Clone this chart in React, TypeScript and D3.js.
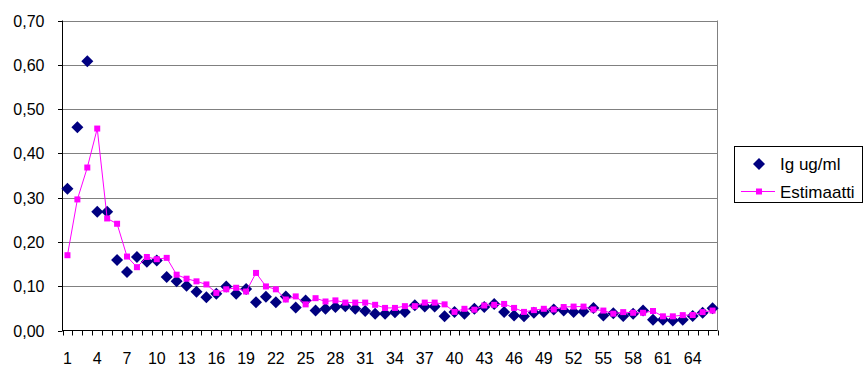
import React from "react";
import * as d3 from "d3";

// Sample index 1..66
const categories: number[] = d3.range(1, 67);

// Measured concentration (Ig ug/ml)
const measured: number[] = [
  0.32, 0.459, 0.608, 0.268, 0.268, 0.159, 0.132, 0.166, 0.155, 0.158,
  0.121, 0.111, 0.101, 0.0875, 0.075, 0.083, 0.0995, 0.083, 0.0935, 0.064,
  0.076, 0.064, 0.077, 0.052, 0.068, 0.045, 0.049, 0.053, 0.055, 0.049,
  0.044, 0.038, 0.038, 0.041, 0.042, 0.057, 0.054, 0.054, 0.032, 0.042,
  0.038, 0.049, 0.053, 0.06, 0.0415, 0.034, 0.032, 0.04, 0.0415, 0.0475,
  0.045, 0.042, 0.043, 0.051, 0.034, 0.039, 0.033, 0.038, 0.045, 0.024,
  0.024, 0.0226, 0.024, 0.033, 0.04, 0.0505,
];

// Model estimate
const estimate: number[] = [
  0.17, 0.296, 0.368, 0.456, 0.253, 0.241, 0.167, 0.143, 0.166, 0.161,
  0.164, 0.126, 0.117, 0.111, 0.104, 0.085, 0.093, 0.0965, 0.088, 0.13,
  0.0995, 0.093, 0.07, 0.077, 0.059, 0.073, 0.0655, 0.068, 0.063, 0.063,
  0.063, 0.058, 0.051, 0.051, 0.055, 0.055, 0.063, 0.063, 0.059, 0.042,
  0.049, 0.047, 0.0565, 0.058, 0.06, 0.051, 0.042, 0.046, 0.049, 0.0475,
  0.053, 0.054, 0.054, 0.0475, 0.045, 0.038, 0.0415, 0.04, 0.04, 0.044,
  0.032, 0.032, 0.0347, 0.035, 0.0415, 0.045,
];

const yTicks: number[] = [0, 0.1, 0.2, 0.3, 0.4, 0.5, 0.6, 0.7];
const xTickLabels: number[] = d3.range(1, 67, 3);
const seriesNames: string[] = ["Ig ug/ml", "Estimaatti"];

const W = 868;
const H = 367;
const left = 62.5;
const right = 717.5;
const top = 20.5;
const bottom = 330.5;

const FONT = "'Liberation Sans', Arial, sans-serif";

export default function App() {
  const x = d3
    .scaleBand<number>()
    .domain(categories)
    .range([left, right])
    .padding(0);
  const y = d3.scaleLinear().domain([0, 0.7]).range([bottom, top]);
  const cx = (c: number) => (x(c) as number) + x.bandwidth() / 2;

  const fmt = (v: number) => v.toFixed(2).replace(".", ",");

  const line = d3
    .line<number>()
    .x((_, i) => cx(categories[i]))
    .y((d) => y(d));

  const diamond = (px: number, py: number, r: number) =>
    `M${px},${py - r}L${px + r},${py}L${px},${py + r}L${px - r},${py}Z`;

  const boundaries = d3.range(0, categories.length + 1).map(
    (i) => left + i * x.bandwidth()
  );

  return (
    <svg
      width={W}
      height={H}
      style={{ position: "absolute", left: 0, top: 0, background: "#fff" }}
      fontFamily={FONT}
    >
      <rect x={0} y={0} width={W} height={H} fill="#fff" />
      {/* gridlines */}
      {yTicks
        .filter((t) => t > 0)
        .map((t) => (
          <line
            key={"g" + t}
            x1={left}
            x2={right}
            y1={Math.round(y(t)) + 0.5}
            y2={Math.round(y(t)) + 0.5}
            stroke="#808080"
            strokeWidth={1}
          />
        ))}
      {/* plot frame right side */}
      <line x1={right} x2={right} y1={top} y2={bottom} stroke="#808080" strokeWidth={1} />
      {/* axes */}
      <line x1={left} x2={right} y1={bottom} y2={bottom} stroke="#000" strokeWidth={1} />
      <line x1={left} x2={left} y1={top} y2={bottom + 0.5} stroke="#000" strokeWidth={1} />
      {yTicks.map((t) => (
        <g key={"yt" + t}>
          <line
            x1={left - 4.5}
            x2={left}
            y1={Math.round(y(t)) + 0.5}
            y2={Math.round(y(t)) + 0.5}
            stroke="#000"
          />
          <text x={44.5} y={y(t) + 6} textAnchor="end" fontSize={16} fill="#000">
            {fmt(t)}
          </text>
        </g>
      ))}
      {/* x axis ticks */}
      {boundaries.map((bx, i) => (
        <line
          key={"xt" + i}
          x1={Math.round(bx) + 0.5}
          x2={Math.round(bx) + 0.5}
          y1={bottom}
          y2={bottom + 5}
          stroke="#000"
        />
      ))}
      {xTickLabels.map((c) => (
        <text key={"xl" + c} x={cx(c)} y={364} textAnchor="middle" fontSize={16} fill="#000">
          {c}
        </text>
      ))}
      {/* measured series */}
      {measured.map((v, i) => (
        <path key={"m" + i} d={diamond(cx(categories[i]), y(v), 6)} fill="#000080" />
      ))}
      {/* estimate series */}
      <path d={line(estimate) || ""} fill="none" stroke="#FF00FF" strokeWidth={1} />
      {estimate.map((v, i) => (
        <rect
          key={"e" + i}
          x={cx(categories[i]) - 3}
          y={y(v) - 3}
          width={6}
          height={6}
          fill="#FF00FF"
        />
      ))}
      {/* legend */}
      <rect x={734.5} y={146.5} width={128} height={56} fill="#fff" stroke="#000" strokeWidth={1} />
      <path d={diamond(759, 164, 6)} fill="#000080" />
      <text x={780} y={169.5} fontSize={17} fill="#000">
        {seriesNames[0]}
      </text>
      <line x1={741} x2={775} y1={191.5} y2={191.5} stroke="#FF00FF" strokeWidth={1} />
      <rect x={756} y={188.5} width={6} height={6} fill="#FF00FF" />
      <text x={780} y={197.5} fontSize={17} fill="#000">
        {seriesNames[1]}
      </text>
    </svg>
  );
}
